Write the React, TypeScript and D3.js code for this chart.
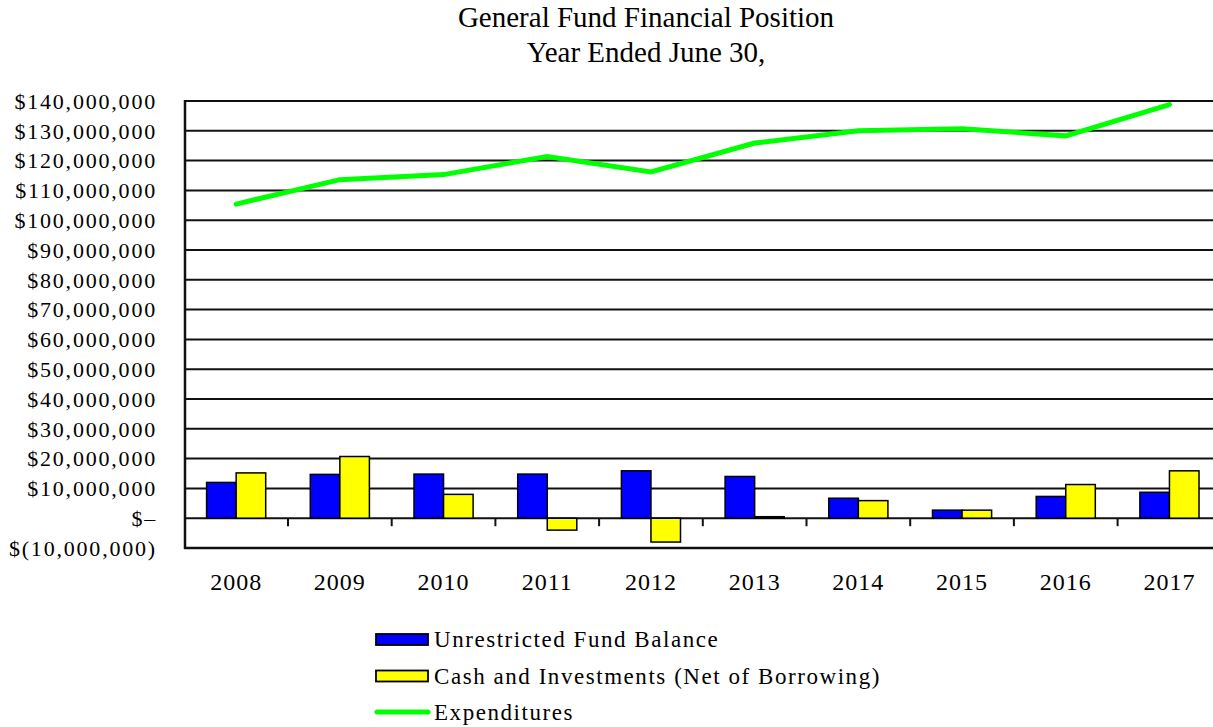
import React from "react";
import * as d3 from "d3";

const years = ["2008", "2009", "2010", "2011", "2012", "2013", "2014", "2015", "2016", "2017"];
const unrestricted = [12.0, 14.7, 14.8, 14.8, 15.9, 14.0, 6.7, 2.7, 7.3, 8.7].map((v) => v * 1e6);
const cash = [15.2, 20.7, 8.0, -4.0, -8.0, 0.5, 5.9, 2.7, 11.3, 15.9].map((v) => v * 1e6);
const expenditures = [105.4, 113.6, 115.3, 121.4, 116.2, 125.9, 130.0, 130.7, 128.3, 138.8].map((v) => v * 1e6);
const yTicks = d3.range(-10, 141, 10).map((v) => v * 1e6);
const titleLines = ["General Fund Financial Position", "Year Ended June 30,"];
const legendItems = [
  { label: "Unrestricted Fund Balance", kind: "bar", color: "#0000ff" },
  { label: "Cash and Investments (Net of Borrowing)", kind: "bar", color: "#ffff00" },
  { label: "Expenditures", kind: "line", color: "#00ff00" },
];

const W = 1213;
const H = 727;
const FONT = "Liberation Serif";

function fmt(v: number) {
  if (v === 0) return "$\u2013";
  const s = d3.format(",")(Math.abs(v));
  return v < 0 ? `$(${s})` : `$${s}`;
}

export default function App() {
  const x = d3.scaleBand<string>().domain(years).range([184.3, 1221.3]).padding(0);
  const y = d3.scaleLinear().domain([-10e6, 140e6]).range([548, 101]);
  const bw = x.bandwidth() * 0.285;
  const cx = (yr: string) => (x(yr) as number) + x.bandwidth() / 2;
  const line = d3
    .line<number>()
    .x((_, i) => cx(years[i]))
    .y((d) => y(d));
  const y0 = y(0);

  return (
    <div style={{ position: "absolute", left: 0, top: 0, width: W, height: H, fontFamily: FONT }}>
      <svg width={W} height={H} fontFamily={FONT} style={{ display: "block", background: "#fff" }}>
        <rect x={0} y={0} width={W} height={H} fill="#fff" />
        {titleLines.map((t, i) => (
          <text key={t} x={646} y={27 + i * 35} textAnchor="middle" fontSize={29} fill="#000" fontFamily={FONT}>
            {t}
          </text>
        ))}
        {yTicks.map((t) => (
          <line key={t} x1={184} x2={W} y1={y(t)} y2={y(t)} stroke="#111" strokeWidth={t === -10e6 ? 2.5 : 2} />
        ))}
        <line x1={185} x2={185} y1={y(140e6) - 1} y2={y(-10e6) + 1} stroke="#111" strokeWidth={2.5} />
        {yTicks.map((t) => (
          <text
            key={"l" + t}
            x={157}
            y={y(t)}
            dy="0.35em"
            textAnchor="end"
            fontSize={22}
            letterSpacing={1.8}
            fill="#000"
            fontFamily={FONT}
          >
            {fmt(t)}
          </text>
        ))}
        {years.slice(1).map((yr) => (
          <line key={"t" + yr} x1={x(yr)} x2={x(yr)} y1={y0} y2={y0 + 8} stroke="#111" strokeWidth={2} />
        ))}
        {years.map((yr, i) => {
          const c = cx(yr);
          const u = unrestricted[i];
          const k = cash[i];
          return (
            <g key={"b" + yr}>
              <rect
                x={c - bw}
                y={Math.min(y(u), y0)}
                width={bw}
                height={Math.abs(y(u) - y0)}
                fill="#0000ff"
                stroke="#000"
                strokeWidth={1.5}
              />
              <rect
                x={c}
                y={Math.min(y(k), y0)}
                width={bw}
                height={Math.abs(y(k) - y0)}
                fill="#ffff00"
                stroke="#000"
                strokeWidth={1.5}
              />
            </g>
          );
        })}
        <path d={line(expenditures) || ""} fill="none" stroke="#00ff00" strokeWidth={5} strokeLinecap="round" />
        {years.map((yr) => (
          <text key={"x" + yr} x={cx(yr)} y={590} textAnchor="middle" fontSize={24} letterSpacing={1} fill="#000" fontFamily={FONT}>
            {yr}
          </text>
        ))}
        {legendItems.map((it, i) => {
          const base = 647 + i * 36.5;
          return (
            <g key={it.label}>
              {it.kind === "bar" ? (
                <rect x={376} y={base - 13} width={52} height={11} fill={it.color} stroke="#000" strokeWidth={1.8} />
              ) : (
                <line x1={377} x2={428} y1={base - 8} y2={base - 8} stroke={it.color} strokeWidth={5} strokeLinecap="round" />
              )}
              <text x={434} y={base} fontSize={23} letterSpacing={1.55} fill="#000" fontFamily={FONT}>
                {it.label}
              </text>
            </g>
          );
        })}
      </svg>
    </div>
  );
}
